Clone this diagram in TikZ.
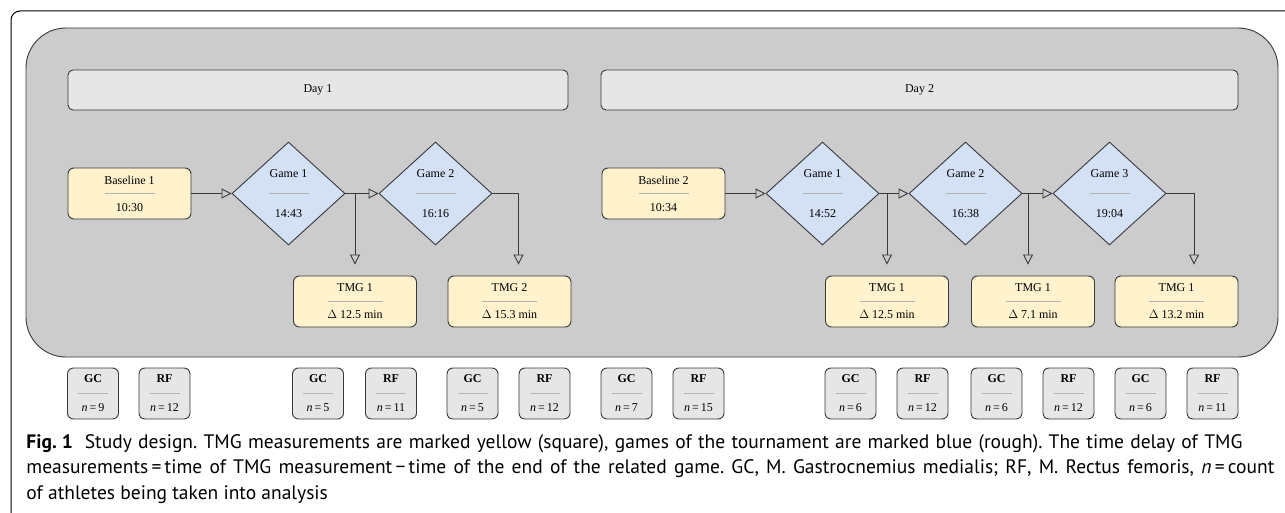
\documentclass[tikz,border=0pt]{standalone}
\usepackage{fontspec}
\setmainfont{Liberation Serif}
\newfontfamily\capfont{PT Sans}
\usepackage{tikz}
\usetikzlibrary{shapes.geometric,arrows.meta,positioning}

\definecolor{panelgray}{HTML}{CCCCCC}
\definecolor{daygray}{HTML}{E6E6E6}
\definecolor{tmgyellow}{HTML}{FFF2CC}
\definecolor{gameblue}{HTML}{D4E1F5}
\definecolor{edgegray}{HTML}{36393D}
\definecolor{sepgray}{HTML}{B3B3B3}

% top text, bottom text, rule length, gap
\newcommand{\splitlbl}[4]{#1\\[#4]{\color{sepgray}\rule[0.3em]{#3}{1pt}}\\[#4]#2}

\begin{document}
\begin{tikzpicture}[x=1pt, y=-1pt, line width=0.9pt,
    font=\fontsize{12}{14}\selectfont,
    daybar/.style={draw=edgegray, fill=daygray, rounded corners=5pt, minimum height=40pt, inner sep=0pt},
    meas/.style={draw=edgegray, fill=tmgyellow, rounded corners=6pt, minimum width=123pt, minimum height=51pt, inner sep=0pt, align=center},
    game/.style={diamond, draw=edgegray, fill=gameblue, minimum width=113pt, minimum height=103pt, inner sep=0pt, align=center},
    count/.style={draw=edgegray, fill=daygray, rounded corners=6pt, minimum width=51pt, minimum height=51pt, inner sep=0pt, align=center},
    tip/.style={draw=edgegray, -{Triangle[open, length=10pt, width=10pt]}}]
    \useasboundingbox (0,0) rectangle (1285,513);
    \clip (0,0) rectangle (1285,513);

    % Frame and panel
    \draw[black, line width=1pt, rounded corners=9pt] (1300,11) -- (11,11) -- (11,522) -- (60,522);
    \draw[draw=edgegray, fill=panelgray, rounded corners=40pt] (26,28) rectangle (1278,357);

    % Nodes
    \node[daybar, minimum width=500pt] (d1) at (318,90) {Day 1};
    \node[daybar, minimum width=637pt] (d2) at (919.5,90) {Day 2};

    \node[meas] (b1) at (129.5,193.5) {\splitlbl{Baseline 1}{10:30}{50pt}{-0.5pt}};
    \node[game] (g11) at (288.5,193.5) {\splitlbl{Game 1}{14:43}{40pt}{6pt}};
    \node[game] (g12) at (435.5,193.5) {\splitlbl{Game 2}{16:16}{40pt}{6pt}};
    \node[meas] (t11) at (355,301.5) {\splitlbl{TMG 1}{$\Delta$ 12.5 min}{55pt}{-0.5pt}};
    \node[meas] (t12) at (509.5,301.5) {\splitlbl{TMG 2}{$\Delta$ 15.3 min}{55pt}{-0.5pt}};

    \node[meas] (b2) at (663.5,193.5) {\splitlbl{Baseline 2}{10:34}{50pt}{-0.5pt}};
    \node[game] (g21) at (822.5,193.5) {\splitlbl{Game 1}{14:52}{40pt}{6pt}};
    \node[game] (g22) at (965.5,193.5) {\splitlbl{Game 2}{16:38}{40pt}{6pt}};
    \node[game] (g23) at (1109.5,193.5) {\splitlbl{Game 3}{19:04}{40pt}{6pt}};
    \node[meas] (t21) at (887,301.5) {\splitlbl{TMG 1}{$\Delta$ 12.5 min}{55pt}{-0.5pt}};
    \node[meas] (t22) at (1033,301.5) {\splitlbl{TMG 1}{$\Delta$ 7.1 min}{55pt}{-0.5pt}};
    \node[meas] (t23) at (1176.5,301.5) {\splitlbl{TMG 1}{$\Delta$ 13.2 min}{55pt}{-0.5pt}};

    % Arrow ends above the TMG boxes
    \coordinate (a12) at ([xshift=9pt]t12.north);
    \coordinate (a22) at ([xshift=-5pt]t22.north);
    \coordinate (a23) at ([xshift=17.5pt]t23.north);

    % Arrows
    \draw[tip] (b1) -- (g11);
    \draw[tip] (g11) -- (g12);
    \draw[tip, shorten >=11pt] (g11.east -| t11.north) -- (t11.north);
    \draw[tip, shorten >=11pt] (g12.east) -| (a12);
    \draw[tip] (b2) -- (g21);
    \draw[tip] (g21) -- (g22);
    \draw[tip] (g22) -- (g23);
    \draw[tip, shorten >=11pt] (g21.east -| t21.north) -- (t21.north);
    \draw[tip, shorten >=11pt] (g22.east -| a22) -- (a22);
    \draw[tip, shorten >=11pt] (g23.east) -| (a23);

    % Athlete counts
    \node[count] (gc1) at (93,393.5) {\splitlbl{\textbf{GC}}{\textit{n}\,=\,9}{30pt}{0.5pt}};
    \node[count] (rf1) at (164.5,393.5) {\splitlbl{\textbf{RF}}{\textit{n}\,=\,12}{30pt}{0.5pt}};
    \node[count] (gc2) at (318,393.5) {\splitlbl{\textbf{GC}}{\textit{n}\,=\,5}{30pt}{0.5pt}};
    \node[count] (rf2) at (391,393.5) {\splitlbl{\textbf{RF}}{\textit{n}\,=\,11}{30pt}{0.5pt}};
    \node[count] (gc3) at (472.5,393.5) {\splitlbl{\textbf{GC}}{\textit{n}\,=\,5}{30pt}{0.5pt}};
    \node[count] (rf3) at (544.5,393.5) {\splitlbl{\textbf{RF}}{\textit{n}\,=\,12}{30pt}{0.5pt}};
    \node[count] (gc4) at (626.5,393.5) {\splitlbl{\textbf{GC}}{\textit{n}\,=\,7}{30pt}{0.5pt}};
    \node[count] (rf4) at (698.5,393.5) {\splitlbl{\textbf{RF}}{\textit{n}\,=\,15}{30pt}{0.5pt}};
    \node[count] (gc5) at (850.5,393.5) {\splitlbl{\textbf{GC}}{\textit{n}\,=\,6}{30pt}{0.5pt}};
    \node[count] (rf5) at (922.5,393.5) {\splitlbl{\textbf{RF}}{\textit{n}\,=\,12}{30pt}{0.5pt}};
    \node[count] (gc6) at (996.5,393.5) {\splitlbl{\textbf{GC}}{\textit{n}\,=\,6}{30pt}{0.5pt}};
    \node[count] (rf6) at (1068.5,393.5) {\splitlbl{\textbf{RF}}{\textit{n}\,=\,12}{30pt}{0.5pt}};
    \node[count] (gc7) at (1140.5,393.5) {\splitlbl{\textbf{GC}}{\textit{n}\,=\,6}{30pt}{0.5pt}};
    \node[count] (rf7) at (1212.5,393.5) {\splitlbl{\textbf{RF}}{\textit{n}\,=\,11}{30pt}{0.5pt}};

    % Caption
    \node[anchor=base west, align=left, inner sep=0pt, font=\capfont\fontsize{19.5}{25.5}\selectfont\frenchspacing] (cap) at (26,499)
    {\makebox[1216pt][s]{\mbox{\textbf{Fig. 1}}\hspace{12pt}Study design. TMG measurements are marked yellow (square), games of the tournament are marked blue (rough). The time delay of TMG}\\
     \makebox[1248pt][s]{measurements\,=\,time of TMG measurement\,−\,time of the end of the related game. GC, M. Gastrocnemius medialis; RF, M. Rectus femoris, \textit{n}\,=\,count}\\
     of athletes being taken into analysis};
\end{tikzpicture}
\end{document}
